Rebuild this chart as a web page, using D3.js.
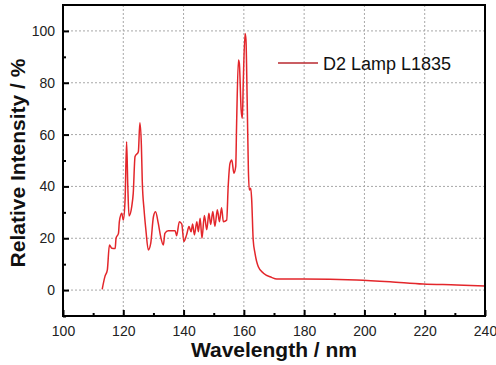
<!DOCTYPE html>
<html>
<head>
<meta charset="utf-8">
<script src="https://cdn.jsdelivr.net/npm/d3@7"></script>
<style>
  body { margin: 0; background: #fff; }
  text { font-family: "Liberation Sans", Arial, sans-serif; }
</style>
</head>
<body>
<script>
// spectrum
var wavelength = [113, 113.9, 114.7, 115.4, 116.2, 117.3, 117.6, 118.4, 118.7, 119.5, 120, 120.6, 121.1, 121.5, 121.9,
  122.8, 123.3, 123.9, 125, 125.5, 126.0, 126.3, 126.9, 127.5, 128.3, 129.1, 130, 130.7, 131.6, 132.4, 133.3, 133.8,
  134.9, 137.2, 137.7, 138.6, 139.4, 140.1, 141, 141.8, 142.5, 143, 143.6, 144.4, 144.9, 145.5, 146.1, 146.9, 147.7,
  148.4, 149, 149.7, 150.4, 151.2, 151.9, 152.6, 153.2, 154.3, 154.8, 155.4, 156, 156.7, 157.3, 157.6, 158.2, 158.5,
  159.1, 159.5, 159.8, 160.4, 160.7, 161.1, 161.5, 161.8, 162.3, 162.6, 163.1, 163.7, 164.8, 166.5, 169.2, 170.9,
  179.7, 197.4, 208.5, 219.5, 230.6, 240];
var intensity = [0.3, 5.2, 7.7, 17.4, 16.1, 16, 20, 21.9, 26.4, 29.6, 27, 35, 57.2, 40, 28.6,
  32.2, 37.3, 51.5, 53.4, 64.6, 56, 42, 30.9, 23.2, 15.5, 18, 28.3, 30.2, 25.8, 20.6, 17.4, 21.9,
  22.9, 22.9, 21, 26.4, 25.5, 18.7, 21.3, 24.5, 22.5, 25.5, 21.3, 26.4, 22.5, 27.7, 20, 28.8, 23.3,
  29.6, 25.3, 30.3, 24.6, 31, 26.4, 31.8, 26.4, 27, 40, 48.9, 50.2, 45.1, 47.6, 64.4, 88.8, 87.5,
  69.5, 66.3, 79.8, 99, 96.5, 73.3, 46.3, 38.6, 39.3, 34.8, 19.3, 14.2, 9, 6.5, 4.9, 4.3,
  4.3, 3.9, 3.2, 2.3, 2.0, 1.6];
var xTicks = [100, 120, 140, 160, 180, 200, 220, 240];
var yTicks = [0, 20, 40, 60, 80, 100];
var seriesName = "D2 Lamp L1835";

var width = 496, height = 365;
var margins = {top: 5, bottom: 49, left: 63, right: 11};

var svg = d3.select("body").append("svg")
  .attr("width", width)
  .attr("height", height);

var xScale = d3.scaleLinear()
  .domain([100, 240])
  .range([margins.left, width - margins.right]);
var yScale = d3.scaleLinear()
  .domain([-10, 110])
  .range([height - margins.bottom, margins.top]);

var x0 = xScale.range()[0], x1 = xScale.range()[1];
var y0 = yScale.range()[0], y1 = yScale.range()[1];

// grid
svg.append("g").selectAll("line")
  .data(xTicks.slice(1, -1))
  .enter().append("line")
  .attr("x1", function(d){ return xScale(d); })
  .attr("x2", function(d){ return xScale(d); })
  .attr("y1", y1).attr("y2", y0)
  .attr("stroke", "#a8a8a8").attr("stroke-width", 1)
  .attr("stroke-dasharray", "2,2");
svg.append("g").selectAll("line")
  .data(yTicks)
  .enter().append("line")
  .attr("y1", function(d){ return yScale(d); })
  .attr("y2", function(d){ return yScale(d); })
  .attr("x1", x0).attr("x2", x1)
  .attr("stroke", "#a8a8a8").attr("stroke-width", 1)
  .attr("stroke-dasharray", "2,2");

// axes, ticks pointing in
var xAxis = d3.axisBottom(xScale).tickValues(xTicks).tickSizeInner(-6).tickSizeOuter(0).tickPadding(12);
var yAxis = d3.axisLeft(yScale).tickValues(yTicks).tickSizeInner(-6).tickSizeOuter(0).tickPadding(12);
var xMinor = d3.axisBottom(xScale).tickValues(d3.range(110, 240, 20)).tickSize(-3).tickFormat("");
var yMinor = d3.axisLeft(yScale).tickValues(d3.range(-10, 110, 20)).tickSize(-3).tickFormat("");

var gx = svg.append("g").attr("transform", "translate(0," + y0 + ")").call(xAxis);
svg.append("g").attr("transform", "translate(0," + y0 + ")").call(xMinor);
var gy = svg.append("g").attr("transform", "translate(" + x0 + ",0)").call(yAxis);
svg.append("g").attr("transform", "translate(" + x0 + ",0)").call(yMinor);

svg.selectAll(".domain").remove();
svg.selectAll(".tick line").attr("stroke", "#000").attr("stroke-width", 2);
svg.selectAll(".tick text")
  .attr("font-size", 14)
  .attr("fill", "#222")
  .style("font-family", "Liberation Sans, Arial, sans-serif");
gy.selectAll(".tick text").attr("x", -8);
gx.selectAll(".tick text").attr("y", 10);

// spectrum line
var line = d3.line()
  .x(function(d){ return xScale(d[0]); })
  .y(function(d){ return yScale(d[1]); })
  .curve(d3.curveMonotoneX);

svg.append("path")
  .datum(d3.zip(wavelength, intensity))
  .attr("d", line)
  .attr("fill", "none")
  .attr("stroke", "#e3262b")
  .attr("stroke-width", 1.5)
  .attr("stroke-linejoin", "round");

// frame
svg.append("rect")
  .attr("x", x0).attr("y", y1)
  .attr("width", x1 - x0).attr("height", y0 - y1)
  .attr("fill", "none")
  .attr("stroke", "#000")
  .attr("stroke-width", 2);

// legend
svg.append("line")
  .attr("x1", 278).attr("x2", 318)
  .attr("y1", 63).attr("y2", 63)
  .attr("stroke", "#b8282f").attr("stroke-width", 1.5);
svg.append("text")
  .attr("x", 323).attr("y", 70)
  .attr("font-size", 18)
  .attr("fill", "#111")
  .text(seriesName);

// titles
svg.append("text")
  .attr("x", (x0 + x1) / 2).attr("y", 357)
  .attr("text-anchor", "middle")
  .attr("font-size", 21).attr("font-weight", "bold")
  .attr("fill", "#111")
  .text("Wavelength / nm");
svg.append("text")
  .attr("transform", "translate(25," + 163 + ") rotate(-90)")
  .attr("text-anchor", "middle")
  .attr("font-size", 21).attr("font-weight", "bold")
  .attr("fill", "#111")
  .text("Relative Intensity / %");
</script>
</body>
</html>
